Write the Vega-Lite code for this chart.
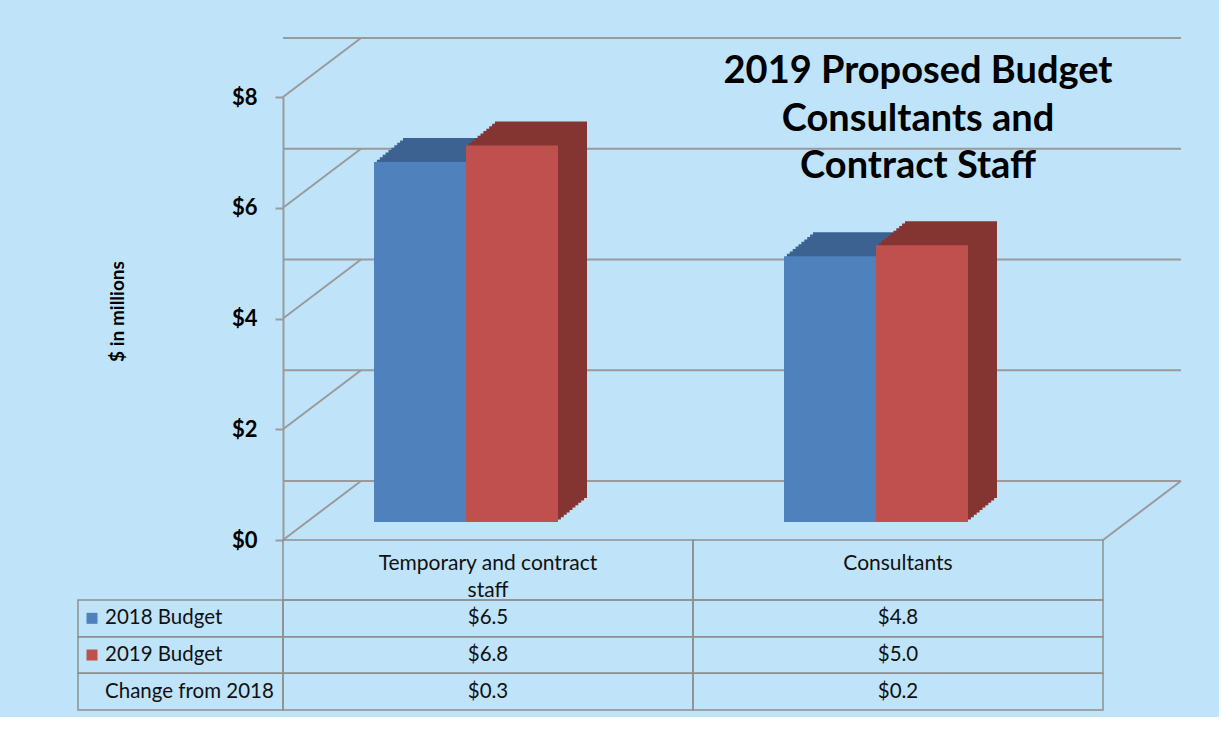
{
  "$schema": "https://vega.github.io/schema/vega-lite/v6.json",
  "background": "#BFE4FA",
  "padding": {"left": 77, "top": 37, "right": 37, "bottom": 6},
  "config": {"font": "Lato", "view": {"stroke": null}, "axis": {"titleFontSize": 19, "titleFontWeight": "bold", "titleColor": "#000000"}},
  "bounds": "flush",
  "spacing": 0,
  "datasets": {
    "budget": [
      {"category": "Temporary and contract staff", "series": "2018 Budget", "value": 6.5},
      {"category": "Temporary and contract staff", "series": "2019 Budget", "value": 6.8},
      {"category": "Temporary and contract staff", "series": "Change from 2018", "value": 0.3},
      {"category": "Consultants", "series": "2018 Budget", "value": 4.8},
      {"category": "Consultants", "series": "2019 Budget", "value": 5.0},
      {"category": "Consultants", "series": "Change from 2018", "value": 0.2}
    ],
    "grid": [{"v": 0}, {"v": 2}, {"v": 4}, {"v": 6}, {"v": 8}],
    "headers": [
      {"category": "Temporary and contract staff", "lines": ["Temporary and contract", "staff"]},
      {"category": "Consultants", "lines": ["Consultants"]}
    ]
  },
  "vconcat": [
    {
      "width": 820,
      "height": 443,
      "title": {
        "text": ["2019 Proposed Budget", "Consultants and", "Contract Staff"],
        "fontSize": 38, "fontWeight": "bold", "color": "#000000",
        "frame": "group", "anchor": "start", "align": "center", "dx": 635,
        "baseline": "top", "lineHeight": 47.5, "offset": 0, "dy": 149
      },
      "layer": [
        {
          "data": {"name": "grid"},
          "mark": {"type": "rule", "color": "#9A9A9A", "strokeWidth": 2, "xOffset": 78, "yOffset": -59},
          "encoding": {
            "y": {
              "field": "v", "type": "quantitative", "title": "$ in millions",
              "scale": {"domain": [0, 8], "nice": false, "zero": true},
              "axis": {
                "title": "$ in millions", "values": [0, 2, 4, 6, 8], "labelExpr": "'$' + datum.value",
                "grid": false, "domainColor": "#9A9A9A", "domainWidth": 2, "tickColor": "#9A9A9A", "tickWidth": 2,
                "tickSize": 8, "labelPadding": 18, "labelFontSize": 22, "labelFontWeight": "bold", "labelColor": "#000000",
                "titleFontSize": 19, "titleFontWeight": "bold", "titleColor": "#000000",
                "titleX": -166, "titleY": 214, "titleAlign": "center", "titleBaseline": "middle", "titleAngle": -90
              }
            }
          }
        },
        {
          "data": {"name": "grid"},
          "mark": {"type": "rule", "color": "#9A9A9A", "strokeWidth": 2, "x2Offset": 78, "y2Offset": -59},
          "encoding": {
            "x": {"datum": "Temporary and contract staff", "type": "nominal", "bandPosition": 0,
                  "scale": {"type": "band", "domain": ["Temporary and contract staff", "Consultants"], "paddingInner": 0, "paddingOuter": 0},
                  "axis": null},
            "x2": {"datum": "Temporary and contract staff", "bandPosition": 0},
            "y": {"field": "v", "type": "quantitative", "title": "$ in millions"},
            "y2": {"field": "v"}
          }
        },
        {
          "data": {"name": "grid"},
          "transform": [{"filter": "datum.v === 0"}],
          "mark": {"type": "rule", "color": "#9A9A9A", "strokeWidth": 2, "x2Offset": 78, "y2Offset": -59},
          "encoding": {
            "x": {"datum": "Consultants", "type": "nominal", "bandPosition": 1, "axis": null},
            "x2": {"datum": "Consultants", "bandPosition": 1},
            "y": {"field": "v", "type": "quantitative", "title": "$ in millions"},
            "y2": {"field": "v"}
          }
        },
        {"data": {"name": "budget"}, "transform": [{"filter": "datum.series === '2018 Budget'"}], "mark": {"type": "bar", "width": 92, "color": "#3C6291", "xOffset": -39, "yOffset": -42, "y2Offset": -42}, "encoding": {"x": {"field": "category", "type": "nominal", "axis": null}, "y": {"field": "value", "type": "quantitative", "title": "$ in millions"}}},
        {"data": {"name": "budget"}, "transform": [{"filter": "datum.series === '2018 Budget'"}], "mark": {"type": "bar", "width": 92, "color": "#3C6291", "xOffset": -41.9, "yOffset": -39.6, "y2Offset": -39.6}, "encoding": {"x": {"field": "category", "type": "nominal", "axis": null}, "y": {"field": "value", "type": "quantitative", "title": "$ in millions"}}},
        {"data": {"name": "budget"}, "transform": [{"filter": "datum.series === '2018 Budget'"}], "mark": {"type": "bar", "width": 92, "color": "#3C6291", "xOffset": -44.8, "yOffset": -37.2, "y2Offset": -37.2}, "encoding": {"x": {"field": "category", "type": "nominal", "axis": null}, "y": {"field": "value", "type": "quantitative", "title": "$ in millions"}}},
        {"data": {"name": "budget"}, "transform": [{"filter": "datum.series === '2018 Budget'"}], "mark": {"type": "bar", "width": 92, "color": "#3C6291", "xOffset": -47.7, "yOffset": -34.8, "y2Offset": -34.8}, "encoding": {"x": {"field": "category", "type": "nominal", "axis": null}, "y": {"field": "value", "type": "quantitative", "title": "$ in millions"}}},
        {"data": {"name": "budget"}, "transform": [{"filter": "datum.series === '2018 Budget'"}], "mark": {"type": "bar", "width": 92, "color": "#3C6291", "xOffset": -50.6, "yOffset": -32.4, "y2Offset": -32.4}, "encoding": {"x": {"field": "category", "type": "nominal", "axis": null}, "y": {"field": "value", "type": "quantitative", "title": "$ in millions"}}},
        {"data": {"name": "budget"}, "transform": [{"filter": "datum.series === '2018 Budget'"}], "mark": {"type": "bar", "width": 92, "color": "#3C6291", "xOffset": -53.5, "yOffset": -30, "y2Offset": -30}, "encoding": {"x": {"field": "category", "type": "nominal", "axis": null}, "y": {"field": "value", "type": "quantitative", "title": "$ in millions"}}},
        {"data": {"name": "budget"}, "transform": [{"filter": "datum.series === '2018 Budget'"}], "mark": {"type": "bar", "width": 92, "color": "#3C6291", "xOffset": -56.4, "yOffset": -27.6, "y2Offset": -27.6}, "encoding": {"x": {"field": "category", "type": "nominal", "axis": null}, "y": {"field": "value", "type": "quantitative", "title": "$ in millions"}}},
        {"data": {"name": "budget"}, "transform": [{"filter": "datum.series === '2018 Budget'"}], "mark": {"type": "bar", "width": 92, "color": "#3C6291", "xOffset": -59.3, "yOffset": -25.2, "y2Offset": -25.2}, "encoding": {"x": {"field": "category", "type": "nominal", "axis": null}, "y": {"field": "value", "type": "quantitative", "title": "$ in millions"}}},
        {"data": {"name": "budget"}, "transform": [{"filter": "datum.series === '2018 Budget'"}], "mark": {"type": "bar", "width": 92, "color": "#3C6291", "xOffset": -62.2, "yOffset": -22.8, "y2Offset": -22.8}, "encoding": {"x": {"field": "category", "type": "nominal", "axis": null}, "y": {"field": "value", "type": "quantitative", "title": "$ in millions"}}},
        {"data": {"name": "budget"}, "transform": [{"filter": "datum.series === '2018 Budget'"}], "mark": {"type": "bar", "width": 92, "color": "#3C6291", "xOffset": -65.1, "yOffset": -20.4, "y2Offset": -20.4}, "encoding": {"x": {"field": "category", "type": "nominal", "axis": null}, "y": {"field": "value", "type": "quantitative", "title": "$ in millions"}}},
        {"data": {"name": "budget"}, "transform": [{"filter": "datum.series === '2018 Budget'"}], "mark": {"type": "bar", "width": 92, "xOffset": -68, "yOffset": -18, "y2Offset": -18}, "encoding": {"x": {"field": "category", "type": "nominal", "axis": null}, "y": {"field": "value", "type": "quantitative", "title": "$ in millions"}, "color": {"field": "series", "type": "nominal", "scale": {"domain": ["2018 Budget", "2019 Budget"], "range": ["#4F81BD", "#C0504D"]}, "legend": null}}},
        {"data": {"name": "budget"}, "transform": [{"filter": "datum.series === '2019 Budget'"}], "mark": {"type": "bar", "width": 92, "color": "#843532", "xOffset": 53, "yOffset": -42, "y2Offset": -42}, "encoding": {"x": {"field": "category", "type": "nominal", "axis": null}, "y": {"field": "value", "type": "quantitative", "title": "$ in millions"}}},
        {"data": {"name": "budget"}, "transform": [{"filter": "datum.series === '2019 Budget'"}], "mark": {"type": "bar", "width": 92, "color": "#843532", "xOffset": 50.1, "yOffset": -39.6, "y2Offset": -39.6}, "encoding": {"x": {"field": "category", "type": "nominal", "axis": null}, "y": {"field": "value", "type": "quantitative", "title": "$ in millions"}}},
        {"data": {"name": "budget"}, "transform": [{"filter": "datum.series === '2019 Budget'"}], "mark": {"type": "bar", "width": 92, "color": "#843532", "xOffset": 47.2, "yOffset": -37.2, "y2Offset": -37.2}, "encoding": {"x": {"field": "category", "type": "nominal", "axis": null}, "y": {"field": "value", "type": "quantitative", "title": "$ in millions"}}},
        {"data": {"name": "budget"}, "transform": [{"filter": "datum.series === '2019 Budget'"}], "mark": {"type": "bar", "width": 92, "color": "#843532", "xOffset": 44.3, "yOffset": -34.8, "y2Offset": -34.8}, "encoding": {"x": {"field": "category", "type": "nominal", "axis": null}, "y": {"field": "value", "type": "quantitative", "title": "$ in millions"}}},
        {"data": {"name": "budget"}, "transform": [{"filter": "datum.series === '2019 Budget'"}], "mark": {"type": "bar", "width": 92, "color": "#843532", "xOffset": 41.4, "yOffset": -32.4, "y2Offset": -32.4}, "encoding": {"x": {"field": "category", "type": "nominal", "axis": null}, "y": {"field": "value", "type": "quantitative", "title": "$ in millions"}}},
        {"data": {"name": "budget"}, "transform": [{"filter": "datum.series === '2019 Budget'"}], "mark": {"type": "bar", "width": 92, "color": "#843532", "xOffset": 38.5, "yOffset": -30, "y2Offset": -30}, "encoding": {"x": {"field": "category", "type": "nominal", "axis": null}, "y": {"field": "value", "type": "quantitative", "title": "$ in millions"}}},
        {"data": {"name": "budget"}, "transform": [{"filter": "datum.series === '2019 Budget'"}], "mark": {"type": "bar", "width": 92, "color": "#843532", "xOffset": 35.6, "yOffset": -27.6, "y2Offset": -27.6}, "encoding": {"x": {"field": "category", "type": "nominal", "axis": null}, "y": {"field": "value", "type": "quantitative", "title": "$ in millions"}}},
        {"data": {"name": "budget"}, "transform": [{"filter": "datum.series === '2019 Budget'"}], "mark": {"type": "bar", "width": 92, "color": "#843532", "xOffset": 32.7, "yOffset": -25.2, "y2Offset": -25.2}, "encoding": {"x": {"field": "category", "type": "nominal", "axis": null}, "y": {"field": "value", "type": "quantitative", "title": "$ in millions"}}},
        {"data": {"name": "budget"}, "transform": [{"filter": "datum.series === '2019 Budget'"}], "mark": {"type": "bar", "width": 92, "color": "#843532", "xOffset": 29.8, "yOffset": -22.8, "y2Offset": -22.8}, "encoding": {"x": {"field": "category", "type": "nominal", "axis": null}, "y": {"field": "value", "type": "quantitative", "title": "$ in millions"}}},
        {"data": {"name": "budget"}, "transform": [{"filter": "datum.series === '2019 Budget'"}], "mark": {"type": "bar", "width": 92, "color": "#843532", "xOffset": 26.9, "yOffset": -20.4, "y2Offset": -20.4}, "encoding": {"x": {"field": "category", "type": "nominal", "axis": null}, "y": {"field": "value", "type": "quantitative", "title": "$ in millions"}}},
        {"data": {"name": "budget"}, "transform": [{"filter": "datum.series === '2019 Budget'"}], "mark": {"type": "bar", "width": 92, "xOffset": 24, "yOffset": -18, "y2Offset": -18}, "encoding": {"x": {"field": "category", "type": "nominal", "axis": null}, "y": {"field": "value", "type": "quantitative", "title": "$ in millions"}, "color": {"field": "series", "type": "nominal", "legend": null}}}
      ]
    },
    {
      "width": 820,
      "height": 60,
      "data": {"name": "headers"},
      "layer": [
        {
          "mark": {"type": "rect", "fill": "transparent", "stroke": "#8E8E8E", "strokeWidth": 1.5},
          "encoding": {
            "x": {"field": "category", "type": "nominal", "axis": null,
                  "scale": {"type": "band", "domain": ["Temporary and contract staff", "Consultants"], "paddingInner": 0, "paddingOuter": 0}}
          }
        },
        {
          "mark": {"type": "text", "baseline": "top", "dy": -17, "fontSize": 21, "lineHeight": 27, "color": "#111111"},
          "encoding": {
            "x": {"field": "category", "type": "nominal", "axis": null},
            "text": {"field": "lines"}
          }
        }
      ]
    },
    {
      "width": 820,
      "height": 110,
      "data": {"name": "budget"},
      "layer": [
        {
          "mark": {"type": "rect", "fill": "transparent", "stroke": "#8E8E8E", "strokeWidth": 1.5},
          "encoding": {
            "x": {"field": "category", "type": "nominal", "axis": null,
                  "scale": {"type": "band", "domain": ["Temporary and contract staff", "Consultants"], "paddingInner": 0, "paddingOuter": 0}},
            "y": {"field": "series", "type": "nominal", "axis": null,
                  "scale": {"type": "band", "domain": ["2018 Budget", "2019 Budget", "Change from 2018"], "paddingInner": 0, "paddingOuter": 0}}
          }
        },
        {
          "mark": {"type": "text", "fontSize": 20.5, "color": "#111111"},
          "encoding": {
            "x": {"field": "category", "type": "nominal", "axis": null},
            "y": {"field": "series", "type": "nominal", "axis": null},
            "text": {"field": "value", "type": "quantitative", "format": "$.1f"}
          }
        },
        {
          "transform": [{"aggregate": [{"op": "count", "as": "n"}], "groupby": ["series"]}],
          "mark": {"type": "rect", "fill": "transparent", "stroke": "#8E8E8E", "strokeWidth": 1.5},
          "encoding": {
            "x": {"datum": "Temporary and contract staff", "type": "nominal", "bandPosition": -0.5, "axis": null},
            "x2": {"datum": "Temporary and contract staff", "bandPosition": 0},
            "y": {"field": "series", "type": "nominal", "axis": null}
          }
        },
        {
          "transform": [
            {"aggregate": [{"op": "count", "as": "n"}], "groupby": ["series"]},
            {"filter": "datum.series !== 'Change from 2018'"}
          ],
          "mark": {"type": "point", "shape": "square", "filled": true, "opacity": 1, "size": 121, "xOffset": 14},
          "encoding": {
            "x": {"datum": "Temporary and contract staff", "type": "nominal", "bandPosition": -0.5, "axis": null},
            "y": {"field": "series", "type": "nominal", "axis": null},
            "color": {"field": "series", "type": "nominal", "legend": null,
                      "scale": {"domain": ["2018 Budget", "2019 Budget"], "range": ["#4F81BD", "#C0504D"]}}
          }
        },
        {
          "transform": [{"aggregate": [{"op": "count", "as": "n"}], "groupby": ["series"]}],
          "mark": {"type": "text", "align": "left", "dx": 27, "fontSize": 20.5, "color": "#111111"},
          "encoding": {
            "x": {"datum": "Temporary and contract staff", "type": "nominal", "bandPosition": -0.5, "axis": null},
            "y": {"field": "series", "type": "nominal", "axis": null},
            "text": {"field": "series", "type": "nominal"}
          }
        }
      ]
    }
  ]
}
